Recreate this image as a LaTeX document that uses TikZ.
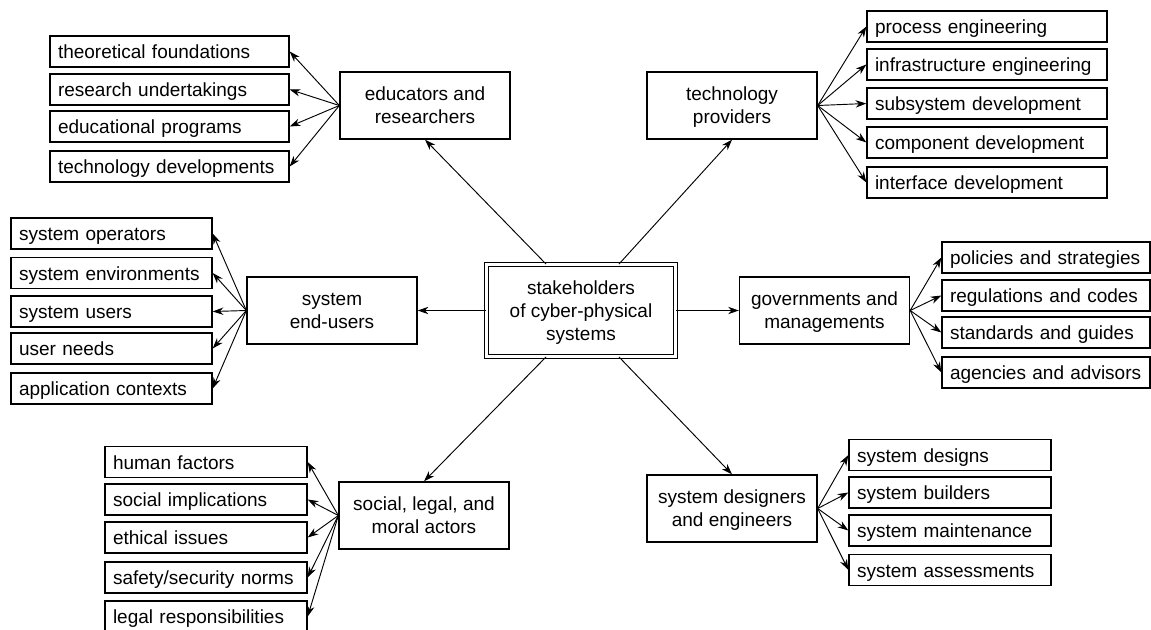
\documentclass[tikz,border=0pt]{standalone}
\usepackage{fontspec}
\setmainfont{Liberation Sans}
\usetikzlibrary{arrows.meta,calc}

\begin{document}
\begin{tikzpicture}[x=0.75pt,y=0.75pt,yscale=-1,xscale=1,
  every node/.style={font=\fontsize{14.25}{17.25}\selectfont},
  box/.style={draw, line width=1pt, minimum width=127.5pt, minimum height=50.25pt, inner sep=0pt, align=center, text depth=0pt},
  item/.style={draw, line width=1pt, text width=#1, minimum height=23.25pt, inner xsep=6pt, inner ysep=0pt, align=left, text height=10.5pt, text depth=0pt},
  arr/.style={-{Stealth[length=8pt,width=5.5pt,inset=2.5pt]}, line width=0.7pt}]
  %set diagram to 1151 x 629
  \useasboundingbox (0,0) rectangle (1151,629);
  \clip (0,0) rectangle (1151,629);

  % Centre Node
  \node [draw, double, double distance=2pt, line width=1pt, minimum width=141.5pt, minimum height=68.7pt, align=center, text depth=0pt] (ctr) at (581,310.5) {stakeholders\\of cyber-physical\\systems};

  % Group Nodes
  \node [box] (edu) at (425,105.5) {educators and\\researchers};
  \node [box] (tech) at (732,105.5) {technology\\providers};
  \node [box] (endu) at (332,310.5) {system\\end-users};
  \node [box] (gov) at (824.5,310.5) {governments and\\managements};
  \node [box] (soc) at (424,515.5) {social, legal, and\\moral actors};
  \node [box] (des) at (732,508.5) {system designers\\and engineers};

  % Item Nodes
  \foreach \y/\t [count=\i] in {51.5/theoretical foundations, 89.5/research undertakings, 126.5/educational programs, 166.5/technology developments}
    \node [item=167.25pt] (edu\i) at (169.5,\y) {\t};
  \foreach \y/\t [count=\i] in {26.5/process engineering, 64.5/infrastructure engineering, 103.5/subsystem development, 142.5/component development, 182.5/interface development}
    \node [item=168pt] (tech\i) at (987,\y) {\t};
  \foreach \y/\t [count=\i] in {233.5/system operators, 273/system environments, 311.5/system users, 348.5/user needs, 388.5/application contexts}
    \node [item=138.75pt] (endu\i) at (111.5,\y) {\t};
  \foreach \y/\t [count=\i] in {257.5/policies and strategies, 295.5/regulations and codes, 332.5/standards and guides, 372.5/agencies and advisors}
    \node [item=144pt] (gov\i) at (1046,\y) {\t};
  \foreach \y/\t [count=\i] in {462/human factors, 499.5/social implications, 537.5/ethical issues, 577.5/{safety/security norms}, 616.5/legal responsibilities}
    \node [item=139.5pt] (soc\i) at (206,\y) {\t};
  \foreach \y/\t [count=\i] in {455/system designs, 492.5/system builders, 530.5/system maintenance, 570/system assessments}
    \node [item=139.5pt] (des\i) at (950,\y) {\t};

  % Centre Arrows
  \draw [arr] ($(ctr.north)+(-35,0)$) -- (edu.south);
  \draw [arr] ($(ctr.north)+(38,0)$) -- (tech.south);
  \draw [arr] (ctr.west) -- (endu.east);
  \draw [arr] (ctr.east) -- (gov.west);
  \draw [arr] ($(ctr.south)+(-35,0)$) -- (soc.north);
  \draw [arr] ($(ctr.south)+(38,0)$) -- (des.north);

  % Fan Arrows
  \foreach \i in {1,...,4} \draw [arr] (edu.west) -- (edu\i.east);
  \foreach \i in {1,...,5} \draw [arr] (tech.east) -- (tech\i.west);
  \foreach \i in {1,...,5} \draw [arr] (endu.west) -- (endu\i.east);
  \foreach \i in {1,...,4} \draw [arr] (gov.east) -- (gov\i.west);
  \foreach \i in {1,...,5} \draw [arr] (soc.west) -- (soc\i.east);
  \foreach \i in {1,...,4} \draw [arr] (des.east) -- (des\i.west);

\end{tikzpicture}
\end{document}
